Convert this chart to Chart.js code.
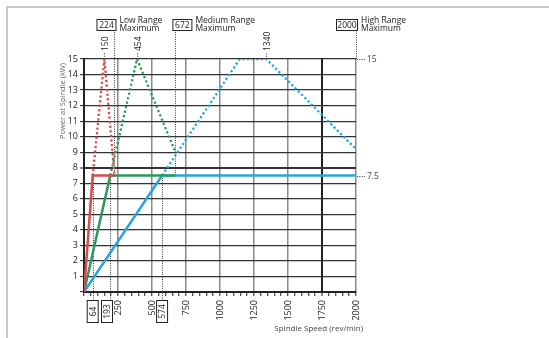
<!DOCTYPE html>
<html>
<head>
<meta charset="utf-8">
<script src="https://cdn.jsdelivr.net/npm/chart.js@4.4.0/dist/chart.umd.min.js"></script>
<style>
  body { margin: 0; background: #fff; }
  #wrap { position: relative; width: 549px; height: 338px; overflow: hidden; }
  #frame { position: absolute; left: 6px; top: 6px; width: 600px; height: 400px; border: 2px solid #c8c8c8; }
  canvas { position: absolute; left: 0; top: 0; }
</style>
</head>
<body>
<div id="wrap">
  <div id="frame"></div>
  <canvas id="powerChart" width="549" height="338"></canvas>
</div>
<script>
// Low range (red)
const lowSpeeds = [0, 64, 224];
const lowPower = [0, 7.5, 7.5];
const lowPeakSpeeds = [64, 150, 224];
const lowPeakPower = [7.5, 15, 7.5];

// Medium range (green)
const medSpeeds = [0, 193, 672];
const medPower = [0, 7.5, 7.5];
const medPeakSpeeds = [193, 390, 672];
const medPeakPower = [7.5, 15, 9];

// High range (blue)
const highSpeeds = [0, 574, 2000];
const highPower = [0, 7.5, 7.5];
const highPeakSpeeds = [574, 1145, 1340, 2000];
const highPeakPower = [7.5, 15, 15, 9.2];

// Annotations
const cornerSpeeds = [64, 193, 574];
const rangeMaxSpeeds = [224, 672, 2000];
const rangeMaxPower = [7.5, 7.5, 15];
const rangeNames = ['Low Range', 'Medium Range', 'High Range'];
const peakSpeeds = [150, 390, 1340];
const peakLabels = ['150', '454', '1340'];
const sidePower = [15, 7.5];
const sideLabels = ['15', '7.5'];

const FONT = '"Open Sans", "DejaVu Sans", sans-serif';
const RED = '#d34b4b', GREEN = '#2a9a5a', BLUE = '#29a5dc';

function pts(xs, ys) {
    return xs.map((v, i) => ({ x: v, y: ys[i] }));
}

function solid(data, color) {
    return { data: data, borderColor: color, borderWidth: 2.5, pointRadius: 0, tension: 0, borderCapStyle: 'butt' };
}

function dotted(data, color) {
    return { data: data, borderColor: color, borderWidth: 2.3, borderDash: [2.2, 2.4], pointRadius: 0, tension: 0, borderCapStyle: 'butt' };
}

function dotLine(ctx, x1, y1, x2, y2) {
    ctx.save();
    ctx.strokeStyle = '#3a3a3a';
    ctx.lineWidth = 1;
    ctx.setLineDash([1, 1.3]);
    ctx.beginPath();
    ctx.moveTo(x1, y1);
    ctx.lineTo(x2, y2);
    ctx.stroke();
    ctx.restore();
}

function box(ctx, x, y, w, h) {
    ctx.save();
    ctx.fillStyle = '#fff';
    ctx.fillRect(x, y, w, h);
    ctx.strokeStyle = '#222';
    ctx.lineWidth = 1;
    ctx.strokeRect(x + 0.5, y + 0.5, w - 1, h - 1);
    ctx.restore();
}

const annotations = {
    id: 'annotations',
    beforeDatasetsDraw(chart) {
        const { ctx, scales: { x, y } } = chart;
        const bottom = y.getPixelForValue(0);
        cornerSpeeds.forEach(s => {
            const px = Math.round(x.getPixelForValue(s)) + 0.5;
            dotLine(ctx, px, y.getPixelForValue(7.5), px, bottom + 8);
        });
        rangeMaxSpeeds.forEach((s, i) => {
            const px = Math.round(x.getPixelForValue(s)) + 0.5;
            dotLine(ctx, px, y.getPixelForValue(rangeMaxPower[i]), px, 30);
        });
    },
    afterDraw(chart) {
        const { ctx, scales: { x, y } } = chart;
        const bottom = y.getPixelForValue(0);
        ctx.save();
        ctx.fillStyle = '#222';

        // boxed corner speeds below the axis
        cornerSpeeds.forEach(s => {
            let cx = x.getPixelForValue(s);
            cx = Math.min(cx, x.getPixelForValue(Math.ceil(s / 250) * 250) - 11);
            box(ctx, cx - 6, bottom + 8, 12, 23);
            ctx.save();
            ctx.translate(cx, bottom + 19.5);
            ctx.rotate(-Math.PI / 2);
            ctx.font = '8.5px ' + FONT;
            ctx.textAlign = 'center';
            ctx.textBaseline = 'middle';
            ctx.fillStyle = '#222';
            ctx.fillText(String(s), 0, 0.5);
            ctx.restore();
        });

        // range maximum boxes at the top
        rangeMaxSpeeds.forEach((s, i) => {
            const px = x.getPixelForValue(s);
            const w = s >= 1000 ? 22 : 20;
            const bx = i === 1 ? px - 3 : px + 2 - w;
            box(ctx, bx, 19, w, 12);
            ctx.font = '8.5px ' + FONT;
            ctx.textAlign = 'center';
            ctx.textBaseline = 'middle';
            ctx.fillText(String(s), bx + w / 2, 25.5);
            ctx.textAlign = 'left';
            ctx.textBaseline = 'alphabetic';
            ctx.font = '8.5px ' + FONT;
            ctx.fillText(rangeNames[i], bx + w + 3, 23);
            ctx.fillText('Maximum', bx + w + 3, 30.5);
        });

        // peak labels
        const top = y.getPixelForValue(15);
        peakSpeeds.forEach((s, i) => {
            const px = Math.round(x.getPixelForValue(s)) + 0.5;
            dotLine(ctx, px, top, px, top - 7);
            ctx.save();
            ctx.translate(px + 1, top - 8);
            ctx.rotate(-Math.PI / 2);
            ctx.font = '8.5px ' + FONT;
            ctx.textAlign = 'left';
            ctx.textBaseline = 'middle';
            ctx.fillStyle = '#222';
            ctx.fillText(peakLabels[i], 0, 0);
            ctx.restore();
        });

        // right side labels
        const right = x.getPixelForValue(2000);
        sidePower.forEach((p, i) => {
            const py = Math.round(y.getPixelForValue(p)) + 0.5;
            dotLine(ctx, right + 1, py, right + 10, py);
            ctx.font = '8.5px ' + FONT;
            ctx.textAlign = 'left';
            ctx.textBaseline = 'middle';
            ctx.fillStyle = '#444';
            ctx.fillText(sideLabels[i], right + 11, py);
        });

        // axis titles
        ctx.save();
        ctx.translate(63, 63);
        ctx.rotate(-Math.PI / 2);
        ctx.font = '7.5px ' + FONT;
        ctx.fillStyle = '#666';
        ctx.textAlign = 'right';
        ctx.textBaseline = 'middle';
        ctx.fillText('Power at Spindle (kW)', 0, 0);
        ctx.restore();

        ctx.font = '8px ' + FONT;
        ctx.fillStyle = '#444';
        ctx.textAlign = 'right';
        ctx.textBaseline = 'middle';
        ctx.fillText('Spindle Speed (rev/min)', right + 7, 329);
        ctx.restore();
    }
};

function initChart() {
    const ctx = document.getElementById('powerChart').getContext('2d');
    new Chart(ctx, {
        type: 'line',
        data: {
            datasets: [
                solid(pts(lowSpeeds, lowPower), RED),
                dotted(pts(lowPeakSpeeds, lowPeakPower), RED),
                solid(pts(medSpeeds, medPower), GREEN),
                dotted(pts(medPeakSpeeds, medPeakPower), GREEN),
                solid(pts(highSpeeds, highPower), BLUE),
                dotted(pts(highPeakSpeeds, highPeakPower), BLUE)
            ]
        },
        options: {
            responsive: false,
            animation: false,
            layout: { padding: { top: 59, right: 193, left: 0, bottom: 0 } },
            plugins: { legend: { display: false }, tooltip: { enabled: false } },
            scales: {
                x: {
                    type: 'linear',
                    min: 0,
                    max: 2000,
                    afterFit: s => { s.height = 46; },
                    border: { color: '#222', width: 2 },
                    grid: {
                        color: c => c.tick.value % 250 !== 0 || c.tick.value === 0 ? 'rgba(0,0,0,0)' : (c.tick.value === 1750 ? '#222' : '#8a8a8a'),
                        lineWidth: c => c.tick.value === 1750 ? 2 : 1.5,
                        tickColor: '#222',
                        tickWidth: 1,
                        tickLength: 4
                    },
                    ticks: {
                        stepSize: 50,
                        autoSkip: false,
                        minRotation: 90,
                        maxRotation: 90,
                        padding: 4,
                        color: '#222',
                        font: { family: FONT, size: 9 },
                        callback: v => (v % 250 === 0 && v > 0) ? String(v) : ''
                    }
                },
                y: {
                    min: 0,
                    max: 15,
                    afterFit: s => { s.width = 84; },
                    border: { color: '#222', width: 2 },
                    grid: {
                        color: c => c.tick.value === 0 ? 'rgba(0,0,0,0)' : '#333',
                        lineWidth: c => c.tick.value === 8 ? 2 : 1.2,
                        tickColor: '#222',
                        tickWidth: 1,
                        tickLength: 4
                    },
                    ticks: {
                        stepSize: 1,
                        padding: 2,
                        color: '#222',
                        font: { family: FONT, size: 9 },
                        callback: v => v === 0 ? '' : String(v)
                    }
                }
            }
        },
        plugins: [annotations]
    });
}

initChart();
</script>
</body>
</html>
